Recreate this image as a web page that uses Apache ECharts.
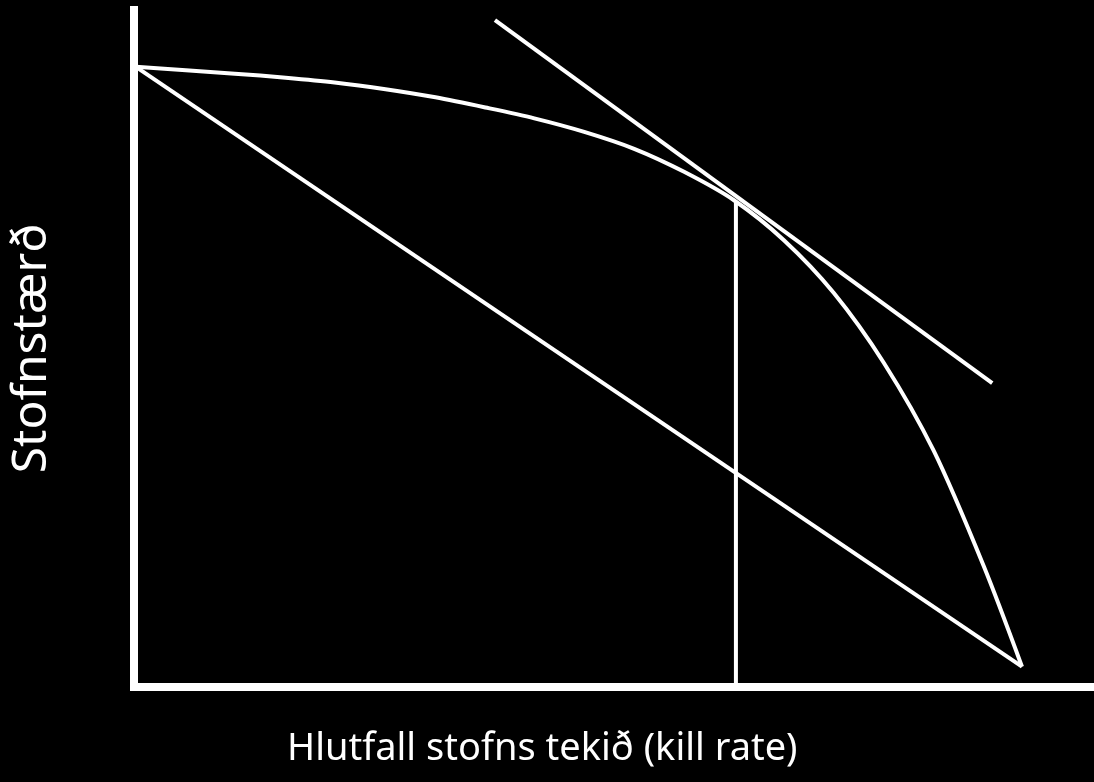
<!DOCTYPE html>
<html>
<head>
<meta charset="utf-8">
<title>Stofnstærð</title>
<script src="https://cdn.jsdelivr.net/npm/echarts@6/dist/echarts.min.js"></script>
<style>
  html, body { margin: 0; padding: 0; background: #000; }
  #chart { width: 1094px; height: 782px; }
</style>
</head>
<body>
<div id="chart"></div>
<script>
// gögn lesin af myndinni (x: hlutfall tekið, y: stofnstærð, 0-100)
const curveX = [0.2, 5.4, 10.5, 15.8, 20.9, 26.2, 31.4, 36.6, 41.7, 46.9, 52.1, 57.3, 62.5, 67.7, 72.9, 78.1, 83.3, 88.5, 92.5]
const curveY = [91.6, 91.1, 90.6, 90.0, 89.3, 88.3, 87.1, 85.6, 84.0, 82.0, 79.5, 76.1, 71.9, 66.0, 58.2, 47.9, 34.9, 17.9, 3.0]
const straightX = [0.2, 92.5]
const straightY = [91.6, 3.0]
const tangentX = [37.6, 89.4]
const tangentY = [98.5, 44.9]
const optimumX = [62.7, 62.7]
const optimumY = [71.8, 0]

const pairs = (xs, ys) => xs.map((x, i) => [x, ys[i]])

const chart = echarts.init(document.getElementById('chart'))
const font = '"Noto Sans", sans-serif'
const lineBase = {
  type: 'line',
  symbol: 'none',
  silent: true,
  lineStyle: { color: '#fff', width: 4 }
}

chart.setOption({
  backgroundColor: '#000',
  animation: false,
  grid: { left: 131, right: 0, top: 10, bottom: 95 },
  xAxis: {
    type: 'value',
    min: 0,
    max: 100,
    axisLine: { lineStyle: { color: '#fff', width: 8, cap: 'square' } },
    axisTick: { show: false },
    axisLabel: { show: false },
    splitLine: { show: false }
  },
  yAxis: {
    type: 'value',
    min: 0,
    max: 100,
    name: 'Stofnstærð',
    nameLocation: 'middle',
    nameGap: 78,
    nameRotate: 90,
    nameTextStyle: { color: '#fff', fontSize: 48, fontFamily: font },
    axisLine: { show: true, lineStyle: { color: '#fff', width: 8, cap: 'square' } },
    axisTick: { show: false },
    axisLabel: { show: false },
    splitLine: { show: false }
  },
  graphic: [{
    type: 'text',
    left: 287,
    top: 730,
    style: {
      text: 'Hlutfall stofns tekið (kill rate)',
      fill: '#fff',
      font: '38px ' + font
    }
  }],
  series: [
    Object.assign({ data: pairs(curveX, curveY), smooth: 0.3 }, lineBase),
    Object.assign({ data: pairs(straightX, straightY) }, lineBase),
    Object.assign({ data: pairs(tangentX, tangentY) }, lineBase),
    Object.assign({ data: pairs(optimumX, optimumY) }, lineBase)
  ]
})
</script>
</body>
</html>
